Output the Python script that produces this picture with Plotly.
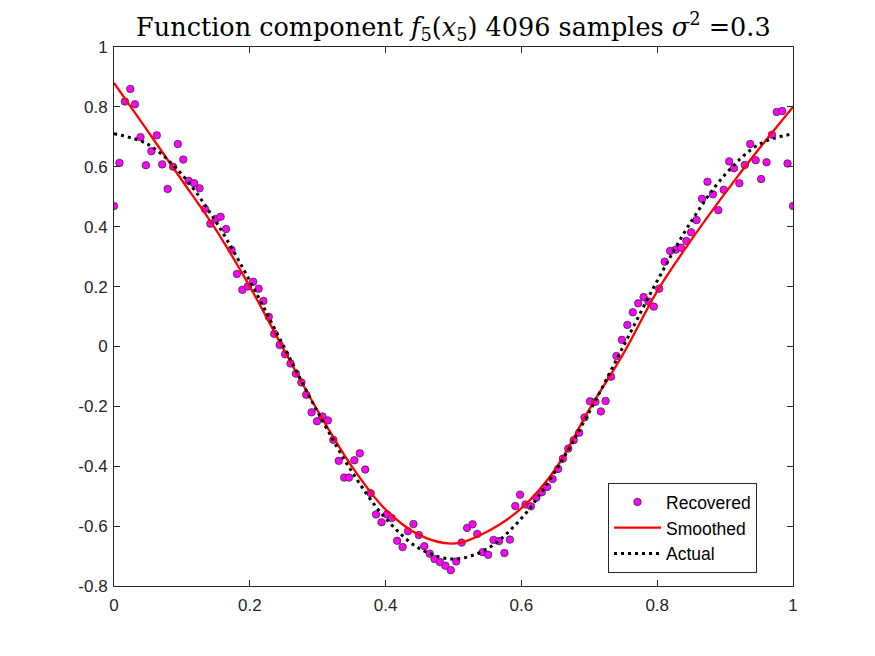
import plotly.graph_objects as go

# recovered samples
rec_x = [0.000, 0.008, 0.016, 0.024, 0.031, 0.039, 0.047, 0.055, 0.063, 0.071,
         0.079, 0.087, 0.094, 0.102, 0.110, 0.118, 0.126, 0.134, 0.142, 0.150,
         0.157, 0.165, 0.173, 0.181, 0.189, 0.197, 0.205, 0.213, 0.220, 0.228,
         0.236, 0.244, 0.252, 0.260, 0.268, 0.276, 0.283, 0.291, 0.299, 0.307,
         0.315, 0.323, 0.331, 0.339, 0.346, 0.354, 0.362, 0.370, 0.378, 0.386,
         0.394, 0.402, 0.409, 0.417, 0.425, 0.433, 0.441, 0.449, 0.457, 0.465,
         0.472, 0.480, 0.488, 0.496, 0.504, 0.512, 0.520, 0.528, 0.535, 0.543,
         0.551, 0.559, 0.567, 0.575, 0.583, 0.591, 0.598, 0.606, 0.614, 0.622,
         0.630, 0.638, 0.646, 0.654, 0.661, 0.669, 0.677, 0.685, 0.693, 0.701,
         0.709, 0.717, 0.724, 0.732, 0.740, 0.748, 0.756, 0.764, 0.772, 0.780,
         0.787, 0.795, 0.803, 0.811, 0.819, 0.827, 0.835, 0.843, 0.850, 0.858,
         0.866, 0.874, 0.882, 0.890, 0.898, 0.906, 0.913, 0.921, 0.929, 0.937,
         0.945, 0.953, 0.961, 0.969, 0.976, 0.984, 0.992, 1.000]
rec_y = [0.469, 0.613, 0.818, 0.860, 0.809, 0.699, 0.605, 0.652, 0.705, 0.608,
         0.526, 0.600, 0.676, 0.624, 0.553, 0.545, 0.528, 0.459, 0.410, 0.426,
         0.433, 0.392, 0.323, 0.242, 0.189, 0.200, 0.216, 0.193, 0.152, 0.099,
         0.042, 0.005, -0.026, -0.057, -0.091, -0.120, -0.161, -0.220, -0.250, -0.234,
         -0.247, -0.312, -0.382, -0.438, -0.438, -0.380, -0.357, -0.411, -0.490, -0.561,
         -0.587, -0.561, -0.573, -0.649, -0.670, -0.617, -0.593, -0.630, -0.667, -0.692,
         -0.710, -0.720, -0.732, -0.747, -0.718, -0.655, -0.606, -0.594, -0.626, -0.687,
         -0.696, -0.646, -0.650, -0.690, -0.645, -0.533, -0.495, -0.528, -0.534, -0.505,
         -0.487, -0.469, -0.443, -0.409, -0.375, -0.341, -0.313, -0.288, -0.237, -0.183,
         -0.185, -0.217, -0.182, -0.101, -0.032, 0.022, 0.072, 0.114, 0.144, 0.165,
         0.150, 0.133, 0.193, 0.283, 0.319, 0.323, 0.330, 0.352, 0.381, 0.422,
         0.493, 0.550, 0.508, 0.455, 0.523, 0.618, 0.595, 0.545, 0.606, 0.676,
         0.622, 0.559, 0.615, 0.707, 0.783, 0.786, 0.611, 0.469]

# smoothed and actual curves
curve_x = [0.00, 0.05, 0.10, 0.15, 0.20, 0.25, 0.30, 0.35, 0.40, 0.45, 0.50,
           0.55, 0.60, 0.65, 0.70, 0.75, 0.80, 0.85, 0.90, 0.95, 1.00]
smooth_y = [0.880, 0.718, 0.555, 0.390, 0.200, -0.010, -0.215, -0.400, -0.545, -0.630, -0.658,
            -0.618, -0.540, -0.410, -0.210, -0.025, 0.185, 0.355, 0.512, 0.660, 0.800]
actual_y = [0.710, 0.675, 0.574, 0.417, 0.219, 0.000, -0.219, -0.417, -0.574, -0.675, -0.710,
            -0.675, -0.574, -0.417, -0.219, 0.000, 0.219, 0.417, 0.574, 0.675, 0.710]

x_ticks = [0, 0.2, 0.4, 0.6, 0.8, 1]
y_ticks = [-0.8, -0.6, -0.4, -0.2, 0, 0.2, 0.4, 0.6, 0.8, 1]

fig = go.Figure()
fig.add_trace(go.Scatter(x=rec_x, y=rec_y, mode='markers', name='Recovered',
                         marker=dict(color='#ff00ff', size=7.5,
                                     line=dict(color='#333333', width=0.8))))
fig.add_trace(go.Scatter(x=curve_x, y=smooth_y, mode='lines', name='Smoothed',
                         line=dict(color='#ff0000', width=2.3, shape='spline')))
fig.add_trace(go.Scatter(x=curve_x, y=actual_y, mode='lines', name='Actual',
                         line=dict(color='black', width=3, dash='3px,4px', shape='spline')))

axis_style = dict(showline=True, linecolor='#262626', linewidth=1, mirror='allticks',
                  ticks='inside', ticklen=6, tickcolor='#262626', showgrid=False,
                  zeroline=False, tickfont=dict(family='Liberation Sans, Arial', size=17, color='#262626'))

# page body has an 8px margin, so margins are shifted by 8
fig.update_layout(
    width=875, height=656,
    margin=dict(l=106, r=90, t=39, b=78),
    paper_bgcolor='white', plot_bgcolor='white',
    title=dict(text='Function component <i>f</i><sub>5</sub>(<i>x</i><sub>5</sub>) 4096 samples <i>σ</i><sup>2</sup> =0.3',
               x=0.509, xanchor='center', y=0.971, yanchor='middle',
               font=dict(family='DejaVu Serif, serif', size=25.5, color='black')),
    xaxis=dict(range=[0, 1], tickvals=x_ticks, ticktext=['0', '0.2', '0.4', '0.6', '0.8', '1'],
               ticklabelstandoff=4, **axis_style),
    yaxis=dict(range=[-0.8, 1], tickvals=y_ticks,
               ticktext=['-0.8', '-0.6', '-0.4', '-0.2', '0', '0.2', '0.4', '0.6', '0.8', '1'],
               ticklabelstandoff=2, **axis_style),
    legend=dict(x=0.947, xanchor='right', y=0.024, yanchor='bottom', itemwidth=47,
                bgcolor='white', bordercolor='#262626', borderwidth=1,
                font=dict(family='Liberation Sans, Arial', size=17.5, color='black')),
)

fig.write_html("out.html")
